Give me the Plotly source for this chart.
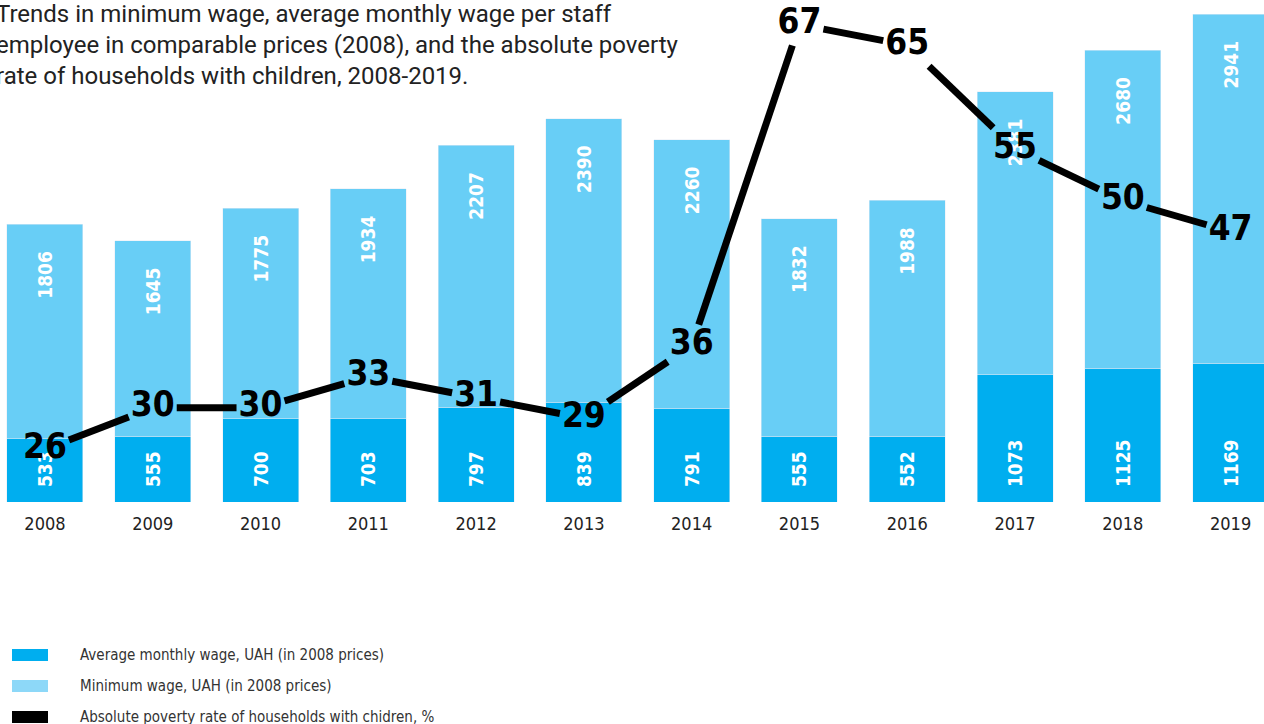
import plotly.graph_objects as go

# data
years = ["2008", "2009", "2010", "2011", "2012", "2013",
         "2014", "2015", "2016", "2017", "2018", "2019"]
avg_wage = [533, 555, 700, 703, 797, 839, 791, 555, 552, 1073, 1125, 1169]
min_wage = [1806, 1645, 1775, 1934, 2207, 2390, 2260, 1832, 1988, 2381, 2680, 2941]
poverty = [26, 30, 30, 33, 31, 29, 36, 67, 65, 55, 50, 47]

DARK = "#00AEEF"
LIGHT = "#68CEF6"
NARROW = "Liberation Sans Narrow, Arial Narrow, DejaVu Sans Condensed, sans-serif"

W, H = 1264, 724
M_T, M_B = 10, 222
x_range = [-0.417, 11.31]
y2_range = [20.9, 68.4]
plot_h = H - M_T - M_B

xs = list(range(len(years)))
pad = "\u00a0\u00a0"

fig = go.Figure()

fig.add_trace(go.Bar(
    x=xs, y=avg_wage, name="Average monthly wage, UAH (in 2008 prices)",
    marker_color=DARK, text=[pad + str(v) for v in avg_wage],
    textposition="inside", insidetextanchor="start", textangle=-90,
    textfont=dict(family=NARROW, size=19, color="white", weight="bold"),
))
fig.add_trace(go.Bar(
    x=xs, y=min_wage, name="Minimum wage, UAH (in 2008 prices)",
    marker_color=LIGHT, text=[str(v) + pad + pad for v in min_wage],
    textposition="inside", insidetextanchor="end", textangle=-90,
    textfont=dict(family=NARROW, size=19, color="white", weight="bold"),
))

# poverty line, cut short around each number label
px_x = W / (x_range[1] - x_range[0])
px_y = plot_h / (y2_range[1] - y2_range[0])
hw, hh = 24, 21
lx, ly = [], []
for i in range(len(xs) - 1):
    dx = (xs[i + 1] - xs[i]) * px_x
    dy = (poverty[i + 1] - poverty[i]) * px_y
    t = min(hw / abs(dx) if dx else 9, hh / abs(dy) if dy else 9)
    ddx = xs[i + 1] - xs[i]
    ddy = poverty[i + 1] - poverty[i]
    lx += [xs[i] + t * ddx, xs[i + 1] - t * ddx, None]
    ly += [poverty[i] + t * ddy, poverty[i + 1] - t * ddy, None]

fig.add_trace(go.Scatter(
    x=lx, y=ly, yaxis="y2", mode="lines",
    line=dict(color="black", width=7), connectgaps=False,
    name="Absolute poverty rate of households with chidren, %",
))
fig.add_trace(go.Scatter(
    x=xs, y=poverty, yaxis="y2", mode="text", text=poverty,
    textposition="middle center", cliponaxis=False,
    textfont=dict(family=NARROW, size=35, color="black", weight="bold"),
    showlegend=False,
))

# title
fig.add_annotation(
    xref="paper", yref="paper", x=0, y=1, xshift=-6, yshift=12,
    xanchor="left", yanchor="top", align="left", showarrow=False,
    text="Trends in minimum wage, average monthly wage per staff<br>"
         "employee in comparable prices (2008), and the absolute poverty<br>"
         "rate of households with children, 2008-2019.",
    font=dict(family="Roboto, sans-serif", size=24, color="#222222"),
)

# legend drawn by hand
def py(p):
    return (H - M_B - p) / plot_h

legend_items = [
    ("Average monthly wage, UAH (in 2008 prices)", DARK, 655),
    ("Minimum wage, UAH (in 2008 prices)", "#8DD8F8", 686),
    ("Absolute poverty rate of households with chidren, %", "black", 717),
]
for label, col, yc in legend_items:
    fig.add_shape(type="rect", xref="paper", yref="paper",
                  x0=12 / W, x1=48 / W, y0=py(yc + 6), y1=py(yc - 6),
                  fillcolor=col, line_width=0)
    fig.add_annotation(xref="paper", yref="paper", x=78 / W, y=py(yc),
                       xanchor="left", yanchor="middle", showarrow=False,
                       text=label,
                       font=dict(family=NARROW, size=15, color="#333333"))

fig.update_layout(
    width=W, height=H,
    margin=dict(l=0, r=0, t=M_T, b=M_B),
    barmode="stack", bargap=0.295,
    plot_bgcolor="white", paper_bgcolor="white",
    showlegend=False,
    xaxis=dict(range=x_range, tickvals=xs, ticktext=years, showgrid=False,
               zeroline=False, showline=False, ticks="", ticklabelstandoff=9,
               tickfont=dict(family=NARROW, size=18, color="#222222")),
    yaxis=dict(range=[0, 4144], visible=False),
    yaxis2=dict(range=y2_range, overlaying="y", visible=False),
)

fig.write_html("out.html", config={"displayModeBar": False},
               post_script="document.body.style.margin='0';")
